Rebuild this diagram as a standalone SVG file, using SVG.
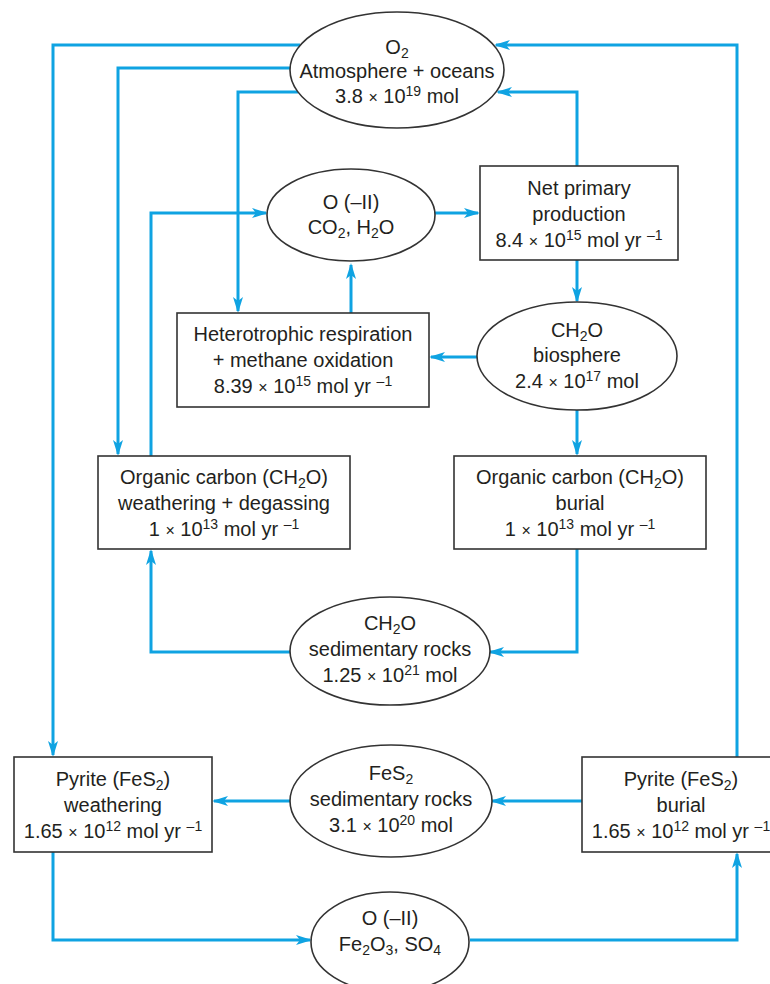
<svg xmlns="http://www.w3.org/2000/svg" width="770" height="984" viewBox="0 0 770 984">
<style>
text{font-family:"Liberation Sans",Arial,sans-serif;font-size:20px;fill:#231f20;text-anchor:middle}
.sup{font-size:14px}
.sub{font-size:14px}
.x{font-size:16px}
.node{fill:#fff;stroke:#333;stroke-width:1.6}
.c{fill:none;stroke:#0fa3e2;stroke-width:3}
</style>
<defs>
<marker id="ah" viewBox="0 0 16 10" markerWidth="16" markerHeight="10" refX="14" refY="5" orient="auto" markerUnits="userSpaceOnUse">
<path d="M0,0 L16,5 L0,10 L4,5 z" fill="#0fa3e2"/>
</marker>
</defs>
<g id="connectors">
<path class="c" d="M300,45 H53 V755" marker-end="url(#ah)"/>
<path class="c" d="M290,68 H118 V454" marker-end="url(#ah)"/>
<path class="c" d="M298,92 H238 V311" marker-end="url(#ah)"/>
<path class="c" d="M737,757 V45 H496" marker-end="url(#ah)"/>
<path class="c" d="M577,166 V92 H498" marker-end="url(#ah)"/>
<path class="c" d="M151,456 V213 H266" marker-end="url(#ah)"/>
<path class="c" d="M435,213 H478" marker-end="url(#ah)"/>
<path class="c" d="M351,313 V265" marker-end="url(#ah)"/>
<path class="c" d="M577,260 V301" marker-end="url(#ah)"/>
<path class="c" d="M477,357 H431" marker-end="url(#ah)"/>
<path class="c" d="M577,410 V454" marker-end="url(#ah)"/>
<path class="c" d="M577,549 V652 H490" marker-end="url(#ah)"/>
<path class="c" d="M290,652 H151 V551" marker-end="url(#ah)"/>
<path class="c" d="M582,801 H492" marker-end="url(#ah)"/>
<path class="c" d="M290,801 H214" marker-end="url(#ah)"/>
<path class="c" d="M53,852 V940 H310" marker-end="url(#ah)"/>
<path class="c" d="M470,940 H737 V854" marker-end="url(#ah)"/>
</g>
<g id="o2">
<ellipse class="node" cx="397" cy="70" rx="107" ry="58"/>
<text x="397" y="54">O<tspan class="sub" baseline-shift="-4">2</tspan></text>
<text x="397" y="78">Atmosphere + oceans</text>
<text x="397" y="103">3.8 <tspan class="x">×</tspan> 10<tspan class="sup" baseline-shift="7">19</tspan> mol</text>
</g>
<g id="co2">
<ellipse class="node" cx="351" cy="215" rx="84" ry="46"/>
<text x="351" y="209">O (–II)</text>
<text x="351" y="234">CO<tspan class="sub" baseline-shift="-4">2</tspan>, H<tspan class="sub" baseline-shift="-4">2</tspan>O</text>
</g>
<g id="npp">
<rect class="node" x="480" y="166" width="198" height="94"/>
<text x="579" y="195">Net primary</text>
<text x="579" y="221">production</text>
<text x="579" y="247">8.4 <tspan class="x">×</tspan> 10<tspan class="sup" baseline-shift="7">15</tspan> mol yr <tspan class="sup" baseline-shift="7">–1</tspan></text>
</g>
<g id="het">
<rect class="node" x="177" y="313" width="252" height="94"/>
<text x="303" y="341">Heterotrophic respiration</text>
<text x="303" y="367">+ methane oxidation</text>
<text x="303" y="393">8.39 <tspan class="x">×</tspan> 10<tspan class="sup" baseline-shift="7">15</tspan> mol yr <tspan class="sup" baseline-shift="7">–1</tspan></text>
</g>
<g id="bio">
<ellipse class="node" cx="577" cy="356" rx="100" ry="54"/>
<text x="577" y="337">CH<tspan class="sub" baseline-shift="-4">2</tspan>O</text>
<text x="577" y="362">biosphere</text>
<text x="577" y="388">2.4 <tspan class="x">×</tspan> 10<tspan class="sup" baseline-shift="7">17</tspan> mol</text>
</g>
<g id="orgw">
<rect class="node" x="98" y="456" width="252" height="93"/>
<text x="224" y="484">Organic carbon (CH<tspan class="sub" baseline-shift="-4">2</tspan>O)</text>
<text x="224" y="510">weathering + degassing</text>
<text x="224" y="536">1 <tspan class="x">×</tspan> 10<tspan class="sup" baseline-shift="7">13</tspan> mol yr <tspan class="sup" baseline-shift="7">–1</tspan></text>
</g>
<g id="orgb">
<rect class="node" x="454" y="456" width="252" height="93"/>
<text x="580" y="484">Organic carbon (CH<tspan class="sub" baseline-shift="-4">2</tspan>O)</text>
<text x="580" y="510">burial</text>
<text x="580" y="536">1 <tspan class="x">×</tspan> 10<tspan class="sup" baseline-shift="7">13</tspan> mol yr <tspan class="sup" baseline-shift="7">–1</tspan></text>
</g>
<g id="ch2osed">
<ellipse class="node" cx="390" cy="651" rx="100" ry="54"/>
<text x="390" y="630">CH<tspan class="sub" baseline-shift="-4">2</tspan>O</text>
<text x="390" y="656">sedimentary rocks</text>
<text x="390" y="682">1.25 <tspan class="x">×</tspan> 10<tspan class="sup" baseline-shift="7">21</tspan> mol</text>
</g>
<g id="pyw">
<rect class="node" x="14" y="757" width="198" height="95"/>
<text x="113" y="786">Pyrite (FeS<tspan class="sub" baseline-shift="-4">2</tspan>)</text>
<text x="113" y="812">weathering</text>
<text x="113" y="838">1.65 <tspan class="x">×</tspan> 10<tspan class="sup" baseline-shift="7">12</tspan> mol yr <tspan class="sup" baseline-shift="7">–1</tspan></text>
</g>
<g id="fes2">
<ellipse class="node" cx="391" cy="801" rx="101" ry="56"/>
<text x="391" y="780">FeS<tspan class="sub" baseline-shift="-4">2</tspan></text>
<text x="391" y="806">sedimentary rocks</text>
<text x="391" y="832">3.1 <tspan class="x">×</tspan> 10<tspan class="sup" baseline-shift="7">20</tspan> mol</text>
</g>
<g id="pyb">
<rect class="node" x="582" y="757" width="198" height="95"/>
<text x="681" y="786">Pyrite (FeS<tspan class="sub" baseline-shift="-4">2</tspan>)</text>
<text x="681" y="812">burial</text>
<text x="681" y="838">1.65 <tspan class="x">×</tspan> 10<tspan class="sup" baseline-shift="7">12</tspan> mol yr <tspan class="sup" baseline-shift="7">–1</tspan></text>
</g>
<g id="fe2o3">
<ellipse class="node" cx="390" cy="942" rx="79" ry="50"/>
<text x="390" y="925">O (–II)</text>
<text x="390" y="951">Fe<tspan class="sub" baseline-shift="-4">2</tspan>O<tspan class="sub" baseline-shift="-4">3</tspan>, SO<tspan class="sub" baseline-shift="-4">4</tspan></text>
</g>
</svg>
